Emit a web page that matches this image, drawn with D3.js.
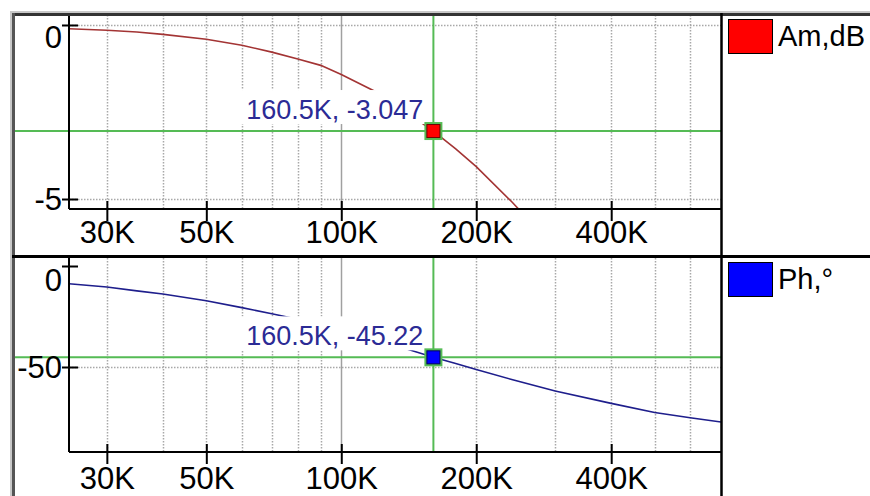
<!DOCTYPE html>
<html><head><meta charset="utf-8">
<script src="https://cdn.jsdelivr.net/npm/d3@7"></script>
<style>html,body{margin:0;padding:0;background:#fff;overflow:hidden}svg{display:block}</style>
</head><body><svg id="c" width="870" height="496"></svg>
<script>
// ---- data ----
const freqK    = [24.7, 30, 35, 40, 50, 60, 70, 80, 90, 100, 120, 140, 160.5, 180, 200, 240, 300, 400, 500, 600, 703];
const ampDb    = [-0.11, -0.15, -0.2, -0.27, -0.41, -0.58, -0.78, -0.98, -1.16, -1.42, -1.93, -2.52, -3.047, -3.56, -4.07, -5.08, -6.4, -8.4, -10.0, -11.5, -12.7];
const phaseDeg = [-8.8, -10.4, -12.3, -13.9, -17.2, -20.6, -23.6, -26.4, -29.2, -31.9, -36.8, -41.1, -45.22, -48.3, -51.2, -56.2, -61.9, -68.0, -72.5, -75.1, -77.2];
const xTickValues = [30, 50, 100, 200, 400];
const xTickLabels = ["30K", "50K", "100K", "200K", "400K"];
const xMinorGrid  = [30, 40, 50, 60, 70, 80, 90, 200, 300, 400, 500, 600];
const xMainGrid   = [100];
const ampTicks    = [0, -5];
const ampTickLabels = ["0", "-5"];
const phaseTicks  = [0, -50];
const phaseTickLabels = ["0", "-50"];
const cursorFreqK = 160.5;
const cursorValues = [-3.047, -45.22];
const cursorLabels = ["160.5K, -3.047", "160.5K, -45.22"];
const seriesNames = ["Am,dB", "Ph,°"];

// ---- layout ----
const FONT = "'Liberation Sans', Arial, sans-serif";
const svg = d3.select("#c");
const X0 = 69, X1 = 721;
const x = d3.scaleLog().domain([24.7, 703]).range([X0, X1]);

const panels = [
  {top: 15, bottom: 209, domain: [0.287, -5.287], ticks: ampTicks, tickLabels: ampTickLabels, hGrid: [0, -5],
   values: ampDb, line: "#a33434", fill: "#ff0000", fillStroke: "#700000", name: seriesNames[0],
   cursor: cursorValues[0], label: cursorLabels[0], labelBase: 34},
  {top: 258, bottom: 452, domain: [3.96, -92.08], ticks: phaseTicks, tickLabels: phaseTickLabels, hGrid: [-50],
   values: phaseDeg, line: "#1e1e8c", fill: "#0000ff", fillStroke: "#000060", name: seriesNames[1],
   cursor: cursorValues[1], label: cursorLabels[1], labelBase: 37}
];

svg.append("rect").attr("width", 870).attr("height", 496).attr("fill", "#fff");

panels.forEach((p, i) => {
  const y = d3.scaleLinear().domain(p.domain).range([p.top, p.bottom]);
  const g = svg.append("g");
  const clipId = "clip" + i;
  svg.append("clipPath").attr("id", clipId).append("rect")
    .attr("x", X0).attr("y", p.top).attr("width", X1 - X0).attr("height", p.bottom - p.top);

  // dotted grid
  g.selectAll(".vg").data(xMinorGrid).join("line")
    .attr("x1", d => Math.round(x(d)) + 0.5).attr("x2", d => Math.round(x(d)) + 0.5)
    .attr("y1", p.top).attr("y2", p.bottom)
    .attr("stroke", "#a8a8a8").attr("stroke-width", 1.5).attr("stroke-dasharray", "1.5,1.5");
  g.selectAll(".hg").data(p.hGrid).join("line")
    .attr("x1", X0).attr("x2", X1)
    .attr("y1", d => Math.round(y(d)) + 0.5).attr("y2", d => Math.round(y(d)) + 0.5)
    .attr("stroke", "#a8a8a8").attr("stroke-width", 1.5).attr("stroke-dasharray", "1.5,1.5");
  g.selectAll(".mg").data(xMainGrid).join("line")
    .attr("x1", d => Math.round(x(d)) + 0.5).attr("x2", d => Math.round(x(d)) + 0.5)
    .attr("y1", p.top).attr("y2", p.bottom)
    .attr("stroke", "#a0a0a0").attr("stroke-width", 1.5);

  // curve
  const data = freqK.map((f, k) => [f, p.values[k]]);
  g.append("path").datum(data)
    .attr("clip-path", `url(#${clipId})`)
    .attr("fill", "none").attr("stroke", p.line).attr("stroke-width", 1.6)
    .attr("d", d3.line().x(d => x(d[0])).y(d => y(d[1])));

  // cursor lines
  const cx = x(cursorFreqK), cy = y(p.cursor);
  g.append("line").attr("x1", 14).attr("x2", X1).attr("y1", cy).attr("y2", cy)
    .attr("stroke", "#55bb55").attr("stroke-width", 2);
  g.append("line").attr("x1", cx).attr("x2", cx).attr("y1", p.top).attr("y2", p.bottom)
    .attr("stroke", "#55bb55").attr("stroke-width", 2);

  // cursor label with white box
  const lbl = g.append("text").text(p.label)
    .attr("x", cx - 10).attr("y", cy - 12)
    .attr("text-anchor", "end").attr("font-family", FONT).attr("font-size", 27)
    .attr("fill", "#2b2b95");
  const bb = lbl.node().getBBox();
  g.insert("rect", "text").attr("x", bb.x - 8).attr("y", bb.y - 5).attr("width", bb.width + 12).attr("height", bb.height + 4)
    .attr("fill", "#fff");

  // marker
  g.append("rect").attr("x", cx - 9).attr("y", cy - 9).attr("width", 18).attr("height", 18)
    .attr("fill", "#55bb55");
  g.append("rect").attr("x", cx - 6.5).attr("y", cy - 6.5).attr("width", 13).attr("height", 13)
    .attr("fill", p.fill).attr("stroke", p.fillStroke).attr("stroke-width", 1);

  // x axis
  const ax = g.append("g").attr("transform", `translate(0,${p.bottom})`)
    .call(d3.axisBottom(x).tickValues(xTickValues).tickFormat((d, k) => xTickLabels[k]).tickSizeOuter(0).tickSizeInner(13));
  ax.select(".domain").attr("stroke", "#000").attr("stroke-width", 2).attr("d", `M${X0},0H${X1}`);
  ax.selectAll(".tick line").attr("y1", -8).attr("y2", 12).attr("stroke", "#000").attr("stroke-width", 2);
  ax.selectAll(".tick text").attr("y", p.labelBase).attr("dy", 0)
    .attr("font-family", FONT).attr("font-size", 31).attr("fill", "#000");

  // y axis
  const ay = g.append("g").attr("transform", `translate(${X0},0)`)
    .call(d3.axisLeft(y).tickValues(p.ticks).tickFormat((d, k) => p.tickLabels[k]).tickSizeOuter(0).tickSizeInner(7));
  ay.select(".domain").attr("stroke", "#000").attr("stroke-width", 2).attr("d", `M0,${p.top}V${p.bottom}`);
  ay.selectAll(".tick line").attr("x1", -7).attr("x2", 9).attr("stroke", "#000").attr("stroke-width", 2);
  ay.selectAll(".tick").each(function(d) {
    const ty = y(d);
    const shift = Math.max(0, (p.top + 22) - ty);
    d3.select(this).select("text").attr("x", -7).attr("y", shift).attr("dy", "0.35em")
      .attr("font-family", FONT).attr("font-size", 31).attr("fill", "#000");
  });

  // legend
  const ly = p.top + 4;
  svg.append("rect").attr("x", 728.5).attr("y", ly + 0.5).attr("width", 44).attr("height", 34)
    .attr("fill", p.fill).attr("stroke", "#000").attr("stroke-width", 1);
  svg.append("text").text(p.name).attr("x", 778).attr("y", ly + 17).attr("dy", "0.35em")
    .attr("font-family", FONT).attr("font-size", 29).attr("fill", "#000");
});

// frames
svg.append("line").attr("x1", 10).attr("x2", 870).attr("y1", 12).attr("y2", 12).attr("stroke", "#c8c8c8").attr("stroke-width", 2);
svg.append("line").attr("x1", 11).attr("x2", 11).attr("y1", 12).attr("y2", 496).attr("stroke", "#c8c8c8").attr("stroke-width", 2);
svg.append("line").attr("x1", 12).attr("x2", 870).attr("y1", 14.5).attr("y2", 14.5).attr("stroke", "#333").attr("stroke-width", 3);
svg.append("line").attr("x1", 13.5).attr("x2", 13.5).attr("y1", 13).attr("y2", 496).attr("stroke", "#555").attr("stroke-width", 3);
svg.append("line").attr("x1", 12).attr("x2", 870).attr("y1", 256.5).attr("y2", 256.5).attr("stroke", "#000").attr("stroke-width", 3);
svg.append("line").attr("x1", 721.5).attr("x2", 721.5).attr("y1", 13).attr("y2", 496).attr("stroke", "#000").attr("stroke-width", 2.5);
</script></body></html>
